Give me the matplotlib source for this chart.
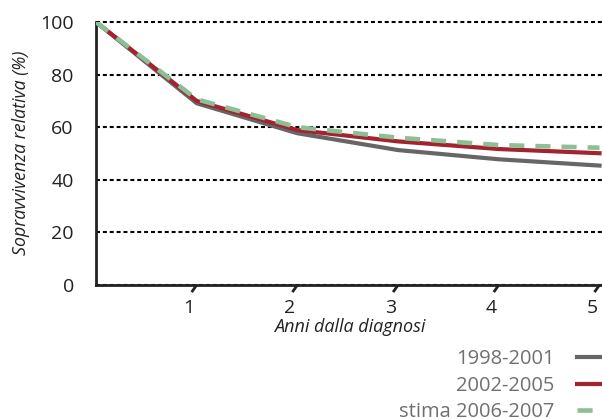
import matplotlib
matplotlib.use("Agg")
import matplotlib.pyplot as plt
from matplotlib.transforms import ScaledTranslation

plt.rcParams['font.family'] = ['Open Sans', 'DejaVu Sans']

years = [0, 1, 2, 3, 4, 5]
s_1998_2001 = [100, 69.1, 57.7, 51.3, 47.8, 45.4]
s_2002_2005 = [100, 70.0, 58.9, 54.6, 51.7, 50.1]
s_2006_2007 = [100, 70.6, 60.0, 56.0, 53.2, 52.2]
labels = ["1998-2001", "2002-2005", "stima 2006-2007"]
yticks = [0, 20, 40, 60, 80, 100]
xticks = [1, 2, 3, 4, 5]

W, H = 602, 419
fig = plt.figure(figsize=(W / 100, H / 100), dpi=100)
ax = fig.add_axes([96 / W, 1 - 285 / H, 5.2 * 100.7 / W, (285 - 22) / H])
ax.set_xlim(0, 5.2)
ax.set_ylim(0, 100)

for y in yticks:
    ax.axhline(y, color='black', lw=1.5, ls=(0, (1.9, 1.4)), zorder=1, clip_on=False)

l1, = ax.plot(years, s_1998_2001, color='#666666', lw=3, zorder=3)
l2, = ax.plot(years, s_2002_2005, color='#a3232e', lw=3, zorder=4)
l3, = ax.plot(years, s_2006_2007, color='#8dbf96', lw=3.3, ls=(0, (3.3, 2.4)), zorder=5)

for side in ['top', 'right']:
    ax.spines[side].set_visible(False)
for side in ['left', 'bottom']:
    ax.spines[side].set_linewidth(2)
    ax.spines[side].set_color('#222222')

ax.set_yticks(yticks)
ax.set_yticklabels([str(v) for v in yticks], fontsize=14, color='#222222')
ax.tick_params(axis='y', length=0, pad=16)
ax.set_xticks(xticks)
ax.set_xticklabels([str(v) for v in xticks], fontsize=14, color='#222222')
ax.tick_params(axis='x', length=0, pad=10)
shift = ScaledTranslation(-5.5 / 72, 0, fig.dpi_scale_trans)
for lab in ax.get_xticklabels():
    lab.set_transform(lab.get_transform() + shift)

# slanted tick marks (below the axis, leaning right)
tick_dx = 0.05   # horizontal lean in data units
tick_dy = 2.7    # depth below the axis in data units
for x in xticks:
    ax.plot([x, x - tick_dx], [0, -tick_dy], color='#222222', lw=2,
            solid_capstyle='butt', clip_on=False, zorder=6)

fig.text(21 / W, 1 - 153 / H, "Sopravvivenza relativa (%)", fontsize=12.8, style='italic',
         color='#222222', rotation=90, ha='center', va='center')
fig.text(350 / W, 1 - 326.5 / H, "Anni dalla diagnosi", fontsize=13, style='italic',
         color='#222222', ha='center', va='center')

leg = fig.legend([l1, l2, l3], labels, loc='upper right', bbox_to_anchor=(629 / W, 1 - 349 / H),
                 frameon=False, markerfirst=False, fontsize=14.5, labelcolor='#707070',
                 handlelength=2.6, handletextpad=1.1, labelspacing=0.33, borderpad=0,
                 borderaxespad=0)

fig.savefig("out.png", dpi=100)
